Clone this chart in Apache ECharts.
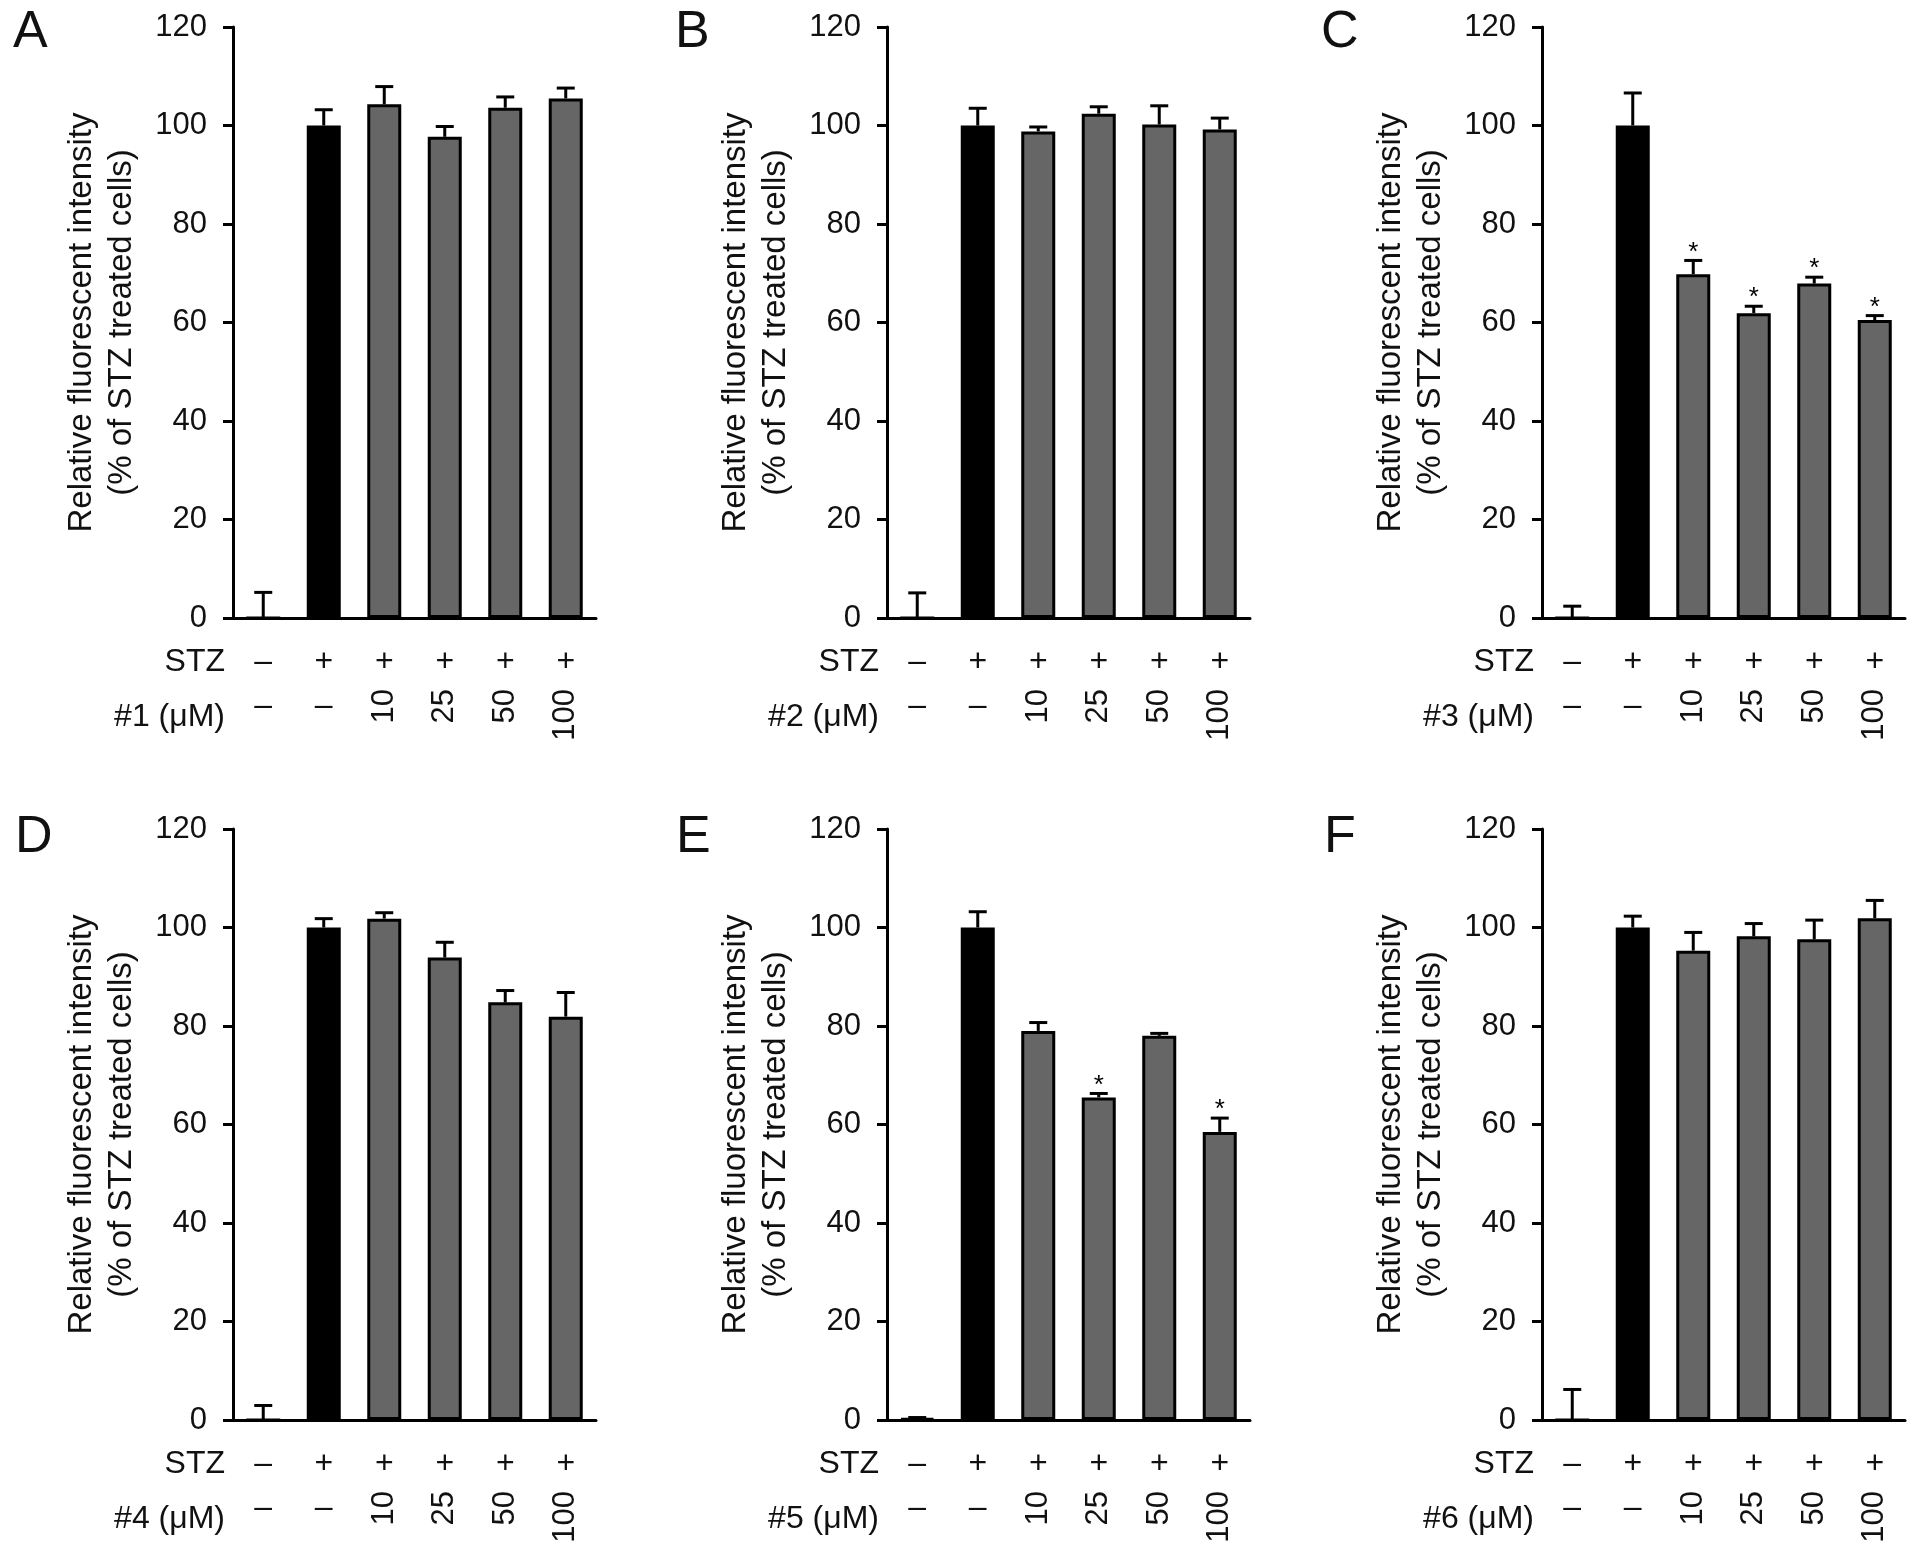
<!DOCTYPE html>
<html>
<head>
<meta charset="utf-8">
<script src="https://cdn.jsdelivr.net/npm/echarts@6/dist/echarts.min.js"></script>
<style>
html,body{margin:0;padding:0;background:#fff;}
#chart{width:1913px;height:1557px;}
</style>
</head>
<body>
<div id="chart"></div>
<script>
// ---- data ----
const panelLetters = ['A', 'B', 'C', 'D', 'E', 'F'];
const compoundLabels = ['#1 (μM)', '#2 (μM)', '#3 (μM)', '#4 (μM)', '#5 (μM)', '#6 (μM)'];
const stzRow = ['–', '+', '+', '+', '+', '+'];
const doseRow = ['–', '–', '10', '25', '50', '100'];
const yMin = 0, yMax = 120, yStep = 20;
const yTitle = 'Relative fluorescent intensity\n(% of STZ treated cells)';

const valuesA = [0, 100, 104.3, 97.7, 103.6, 105.5];
const semA    = [5.2, 3.2, 3.6, 2.1, 2.2, 2.1];
const sigA    = [0, 0, 0, 0, 0, 0];

const valuesB = [0, 100, 98.8, 102.4, 100.2, 99.2];
const semB    = [5.1, 3.5, 0.9, 1.4, 3.8, 2.3];
const sigB    = [0, 0, 0, 0, 0, 0];

const valuesC = [0, 100, 69.8, 61.9, 67.9, 60.5];
const semC    = [2.4, 6.6, 2.8, 1.4, 1.3, 0.9];
const sigC    = [0, 0, 1, 1, 1, 1];

const valuesD = [0, 100, 101.8, 93.9, 84.8, 81.9];
const semD    = [2.95, 1.8, 1.2, 3.1, 2.4, 4.9];
const sigD    = [0, 0, 0, 0, 0, 0];

const valuesE = [0.3, 100, 79.0, 65.5, 78.0, 58.5];
const semE    = [0.2, 3.2, 1.7, 0.8, 0.5, 2.8];
const sigE    = [0, 0, 0, 1, 0, 1];

const valuesF = [0, 100, 95.3, 98.2, 97.6, 101.9];
const semF    = [6.2, 2.3, 3.7, 2.6, 3.9, 3.6];
const sigF    = [0, 0, 0, 0, 0, 0];

const panelValues = [valuesA, valuesB, valuesC, valuesD, valuesE, valuesF];
const panelSem = [semA, semB, semC, semD, semE, semF];
const panelSig = [sigA, sigB, sigC, sigD, sigE, sigF];

// ---- layout / style ----
const FONT = '"Liberation Sans", Arial, Helvetica, sans-serif';
const TXT = '#111';
const gridLefts = [233, 887, 1542];
const gridTops = [27, 829];
const gridW = 363, gridH = 591;
const letterPos = [[13, 33], [675, 33], [1321, 33], [15, 838], [676, 838], [1324, 838]];

const grids = [], xAxes = [], yAxes = [], series = [], graphics = [];
const labelAxisBase = {
  type: 'category', axisLine: {show: false}, axisTick: {show: false},
  splitLine: {show: false}, nameMoveOverlap: false, position: 'bottom'
};

for (let g = 0; g < 6; g++) {
  const col = g % 3, row = Math.floor(g / 3);
  grids.push({left: gridLefts[col], top: gridTops[row], width: gridW, height: gridH,
              containLabel: false, outerBoundsMode: 'none'});
  const xb = xAxes.length;
  // main axis
  xAxes.push({
    type: 'category', gridIndex: g, data: doseRow, position: 'bottom', boundaryGap: true,
    axisLine: {show: true, lineStyle: {color: '#000', width: 3}},
    axisTick: {show: false}, axisLabel: {show: false}, splitLine: {show: false},
    nameMoveOverlap: false
  });
  // STZ row
  xAxes.push(Object.assign({}, labelAxisBase, {
    gridIndex: g, data: stzRow, offset: 44,
    axisLabel: {interval: 0, margin: 0, verticalAlign: 'middle', fontSize: 32, color: TXT, fontFamily: FONT, hideOverlap: false},
    name: 'STZ', nameLocation: 'start', nameGap: 8,
    nameTextStyle: {fontSize: 32, color: TXT, fontFamily: FONT, align: 'right', verticalAlign: 'middle'}
  }));
  // dose row: dashes
  xAxes.push(Object.assign({}, labelAxisBase, {
    gridIndex: g, data: doseRow, offset: 88,
    axisLabel: {interval: 0, margin: 0, verticalAlign: 'middle', fontSize: 32, color: TXT, fontFamily: FONT, hideOverlap: false,
                formatter: v => (v === '–' ? v : '')}
  }));
  // dose row: rotated numbers
  xAxes.push(Object.assign({}, labelAxisBase, {
    gridIndex: g, data: doseRow, offset: 71,
    axisLabel: {interval: 0, margin: 0, rotate: 90, fontSize: 31, color: TXT, fontFamily: FONT, hideOverlap: false,
                formatter: v => (v === '–' ? '' : v)}
  }));
  // dose row: name
  xAxes.push(Object.assign({}, labelAxisBase, {
    gridIndex: g, data: doseRow, offset: 99,
    axisLabel: {show: false},
    name: compoundLabels[g], nameLocation: 'start', nameGap: 8,
    nameTextStyle: {fontSize: 32, color: TXT, fontFamily: FONT, align: 'right', verticalAlign: 'middle'}
  }));

  yAxes.push({
    type: 'value', gridIndex: g, min: yMin, max: yMax, interval: yStep,
    axisLine: {show: true, lineStyle: {color: '#000', width: 3}},
    axisTick: {show: true, length: 10, inside: false, lineStyle: {color: '#000', width: 3}},
    splitLine: {show: false},
    axisLabel: {fontSize: 31, color: TXT, fontFamily: FONT, margin: 26},
    name: yTitle, nameLocation: 'middle', nameRotate: 90, nameGap: 91, nameMoveOverlap: false,
    nameTextStyle: {fontSize: 33, lineHeight: 40, color: TXT, fontFamily: FONT, align: 'center'}
  });

  series.push({
    type: 'bar', xAxisIndex: xb, yAxisIndex: g, data: panelValues[g], barWidth: 34,
    itemStyle: {
      color: p => (p.dataIndex <= 1 ? '#000000' : '#666666'),
      borderColor: '#000', borderWidth: 3
    },
    silent: true, animation: false, z: 2
  });

  const errData = panelValues[g].map((v, i) => [i, v, panelSem[g][i], panelSig[g][i]]);
  series.push({
    type: 'custom', xAxisIndex: xb, yAxisIndex: g, data: errData, encode: {x: 0, y: 1},
    silent: true, animation: false, z: 3,
    renderItem: function (params, api) {
      const i = api.value(0), m = api.value(1), e = api.value(2), s = api.value(3);
      const p0 = api.coord([i, m]);
      const p1 = api.coord([i, m + e]);
      const children = [
        {type: 'line', shape: {x1: p0[0], y1: p0[1], x2: p1[0], y2: p1[1]}, style: {stroke: '#000', lineWidth: 3}},
        {type: 'line', shape: {x1: p1[0] - 9, y1: p1[1], x2: p1[0] + 9, y2: p1[1]}, style: {stroke: '#000', lineWidth: 3}}
      ];
      if (s) {
        children.push({type: 'text', style: {text: '*', x: p1[0], y: p1[1] - 8, align: 'center', verticalAlign: 'middle',
          font: '26px ' + FONT, fill: '#000'}});
      }
      return {type: 'group', children: children};
    }
  });

  graphics.push({
    type: 'text', x: letterPos[g][0], y: letterPos[g][1],
    style: {text: panelLetters[g], font: '52px ' + FONT, fill: TXT, verticalAlign: 'middle', align: 'left'}
  });
}

const chart = echarts.init(document.getElementById('chart'), null, {renderer: 'canvas'});
chart.setOption({
  animation: false,
  backgroundColor: '#fff',
  textStyle: {fontFamily: FONT},
  grid: grids, xAxis: xAxes, yAxis: yAxes, series: series,
  graphic: graphics
});
</script>
</body>
</html>
